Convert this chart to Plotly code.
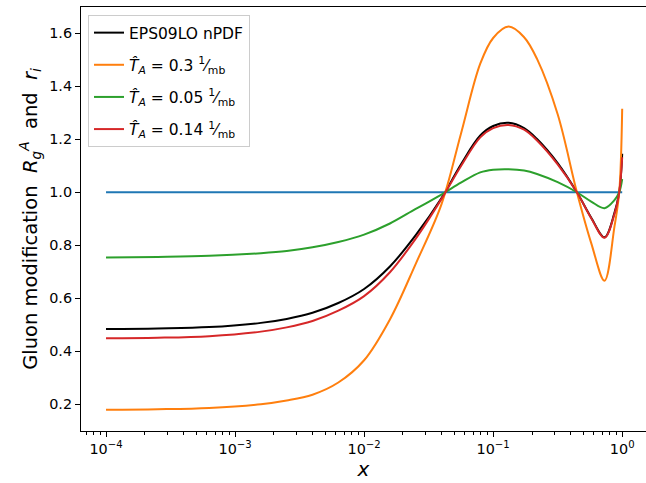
import plotly.graph_objects as go

# log10(x) positions
log_x = [-4.0, -3.6, -3.2, -2.8, -2.6, -2.4, -2.2, -2.0, -1.8, -1.6, -1.4,
         -1.25, -1.1, -1.0, -0.88, -0.76, -0.66, -0.5, -0.351, -0.24, -0.137,
         -0.06, -0.023, 0.0]
x_vals = [10 ** v for v in log_x]

eps09 = [0.484, 0.486, 0.491, 0.507, 0.522, 0.545, 0.582, 0.635, 0.720, 0.838, 0.978,
         1.105, 1.214, 1.250, 1.262, 1.242, 1.201, 1.110, 1.0, 0.904, 0.830,
         0.922, 1.0, 1.145]
t03 = [0.179, 0.181, 0.186, 0.200, 0.214, 0.236, 0.282, 0.366, 0.520, 0.730, 0.955,
       1.220, 1.485, 1.582, 1.625, 1.585, 1.503, 1.294, 1.0, 0.808, 0.666,
       0.870, 1.0, 1.315]
t005 = [0.754, 0.756, 0.760, 0.770, 0.778, 0.792, 0.812, 0.840, 0.882, 0.937, 0.991,
        1.036, 1.075, 1.085, 1.087, 1.082, 1.069, 1.038, 1.0, 0.965, 0.940,
        0.970, 1.0, 1.050]
t014 = [0.449, 0.451, 0.457, 0.474, 0.490, 0.514, 0.553, 0.608, 0.698, 0.825, 0.975,
        1.098, 1.207, 1.242, 1.254, 1.236, 1.195, 1.105, 1.0, 0.902, 0.828,
        0.918, 1.0, 1.132]
ref_x = [1e-4, 1.0]
ref_y = [1.0, 1.0]

y_ticks = [0.2, 0.4, 0.6, 0.8, 1.0, 1.2, 1.4, 1.6]
x_ticks = [1e-4, 1e-3, 1e-2, 1e-1, 1.0]
x_ticktext = ["10<sup>−4</sup>", "10<sup>−3</sup>", "10<sup>−2</sup>", "10<sup>−1</sup>", "10<sup>0</sup>"]
minor_ticks = [k * 10 ** e for e in range(-5, 1) for k in range(2, 10)]

FONT = "DejaVu Sans"
fig = go.Figure()
line_kw = dict(shape="spline", smoothing=1.0, width=2)
fig.add_trace(go.Scatter(x=x_vals, y=eps09, mode="lines", name="EPS09LO nPDF",
                         legendgroup="a", line=dict(color="black", **line_kw)))
fig.add_trace(go.Scatter(x=ref_x, y=ref_y, mode="lines", showlegend=False,
                         line=dict(color="#1f77b4", width=2)))
fig.add_trace(go.Scatter(x=x_vals, y=t03, mode="lines", legendgroup="b",
                         name="<i>T̂</i><sub><i>A</i></sub> = 0.3 <sup>1</sup>⁄<sub>mb</sub>",
                         line=dict(color="#ff7f0e", **line_kw)))
fig.add_trace(go.Scatter(x=x_vals, y=t005, mode="lines", legendgroup="c",
                         name="<i>T̂</i><sub><i>A</i></sub> = 0.05 <sup>1</sup>⁄<sub>mb</sub>",
                         line=dict(color="#2ca02c", **line_kw)))
fig.add_trace(go.Scatter(x=x_vals, y=t014, mode="lines", legendgroup="d",
                         name="<i>T̂</i><sub><i>A</i></sub> = 0.14 <sup>1</sup>⁄<sub>mb</sub>",
                         line=dict(color="#d62728", **line_kw)))

fig.update_layout(
    width=646, height=483,
    margin=dict(l=81, r=0, t=7, b=52),
    paper_bgcolor="white", plot_bgcolor="white",
    font=dict(family=FONT, size=14, color="black"),
    legend=dict(x=0.0124, y=0.981, xanchor="left", yanchor="top",
                bgcolor="rgba(255,255,255,0.8)", bordercolor="#cccccc", borderwidth=1,
                font=dict(family=FONT, size=15.5), tracegroupgap=9,
                itemwidth=30),
    showlegend=True,
)
fig.update_xaxes(type="log", range=[-4.194, 0.1845],
                 tickmode="array", tickvals=x_ticks, ticktext=x_ticktext,
                 ticks="outside", ticklen=5, tickwidth=1, tickcolor="black",
                 showgrid=False, zeroline=False,
                 showline=True, linecolor="black", linewidth=1, mirror=True,
                 tickfont=dict(family=FONT, size=14.4),
                 minor=dict(tickmode="array", tickvals=minor_ticks, ticks="outside",
                            ticklen=3, tickwidth=1, tickcolor="black", showgrid=False),
                 title=dict(text="<i>x</i>", font=dict(family=FONT, size=20), standoff=4))
fig.update_yaxes(range=[0.099, 1.699], tickmode="array", tickvals=y_ticks,
                 ticktext=[f"{v:.1f}" for v in y_ticks],
                 ticks="outside", ticklen=5, tickwidth=1, tickcolor="black",
                 showgrid=False, zeroline=False,
                 showline=True, linecolor="black", linewidth=1, mirror=False,
                 tickfont=dict(family=FONT, size=14.4),
                 title=dict(text="Gluon modification  <i>R</i><sub><i>g</i></sub><sup><i>A</i></sup>  and  <i>r</i><sub><i>i</i></sub>",
                            font=dict(family=FONT, size=19.5), standoff=6))

fig.write_html("out.html")
